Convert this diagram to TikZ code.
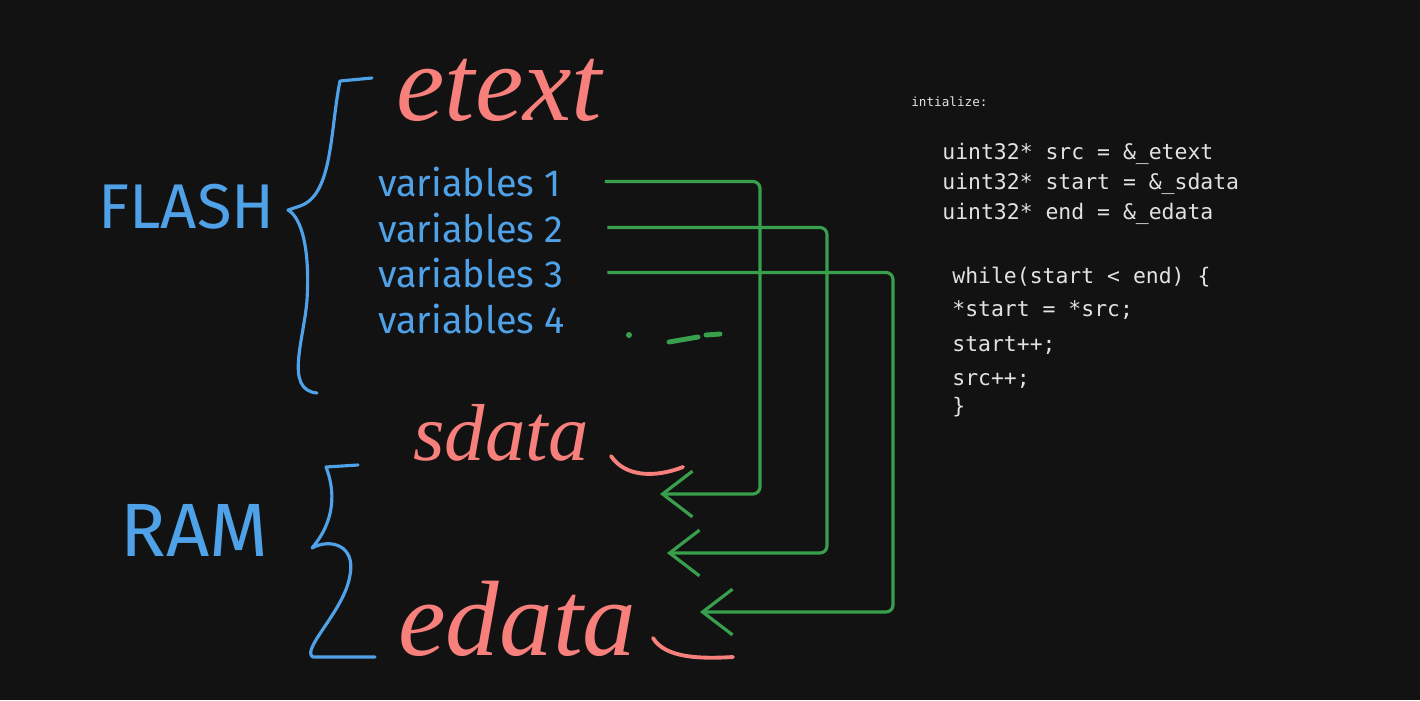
\documentclass[tikz,border=0pt]{standalone}
\usepackage{fontspec}
\setmainfont{Fira Sans}
\newfontfamily\codefont{DejaVu Sans Mono}
\newfontfamily\handfont{Liberation Serif}
\usetikzlibrary{arrows.meta, positioning}
\definecolor{bgdark}{RGB}{18,18,18}
\definecolor{memblue}{RGB}{80,162,232}
\definecolor{symred}{RGB}{248,128,124}
\definecolor{copygreen}{RGB}{56,160,76}
\definecolor{codewhite}{RGB}{226,226,226}
\tikzstyle{region}=[text=memblue, anchor=base west, inner sep=0pt]
\tikzstyle{varlbl}=[text=memblue, font=\fontsize{21.5}{24}\selectfont,
  anchor=base west, inner sep=0pt]
\tikzstyle{symlbl}=[text=symred, anchor=base west, inner sep=0pt]
\tikzstyle{codeln}=[text=codewhite, font=\codefont\fontsize{12.2}{14}\selectfont,
  anchor=base west, inner sep=0pt]
\tikzstyle{brace}=[draw=memblue, line width=1.8pt, line cap=round, line join=round]
\tikzstyle{redstroke}=[draw=symred, line width=2.2pt, line cap=round]
\tikzstyle{garr}=[-{Straight Barb[length=17pt, width=26pt]}, draw=copygreen,
  line width=1.8pt, rounded corners=4pt, shorten <=0.88cm]

\begin{document}
\begin{tikzpicture}[x=0.02cm, y=-0.02cm]
    \fill[bgdark] (0,0) rectangle (1420,700);
    \useasboundingbox (0,0) rectangle (1420,700);
    % memory regions
    \node[region, font=\fontsize{36}{40}\selectfont] (flash) at (98,228) {FLASH};
    \node[region, font=\fontsize{43}{46}\selectfont] (ram) at (120,556) {RAM};
    \draw[brace] (372,78) -- (340,81) .. controls (330,130) and (333,195) .. (300,206)
      -- (288,210) .. controls (302,218) and (310,250) .. (307,300)
      .. controls (304,340) and (284,390) .. (317,393);
    \draw[brace] (358,465) -- (326,467) .. controls (335,490) and (336,520) .. (312,548)
      .. controls (330,538) and (356,545) .. (350,575)
      .. controls (345,610) and (300,650) .. (313,657) -- (375,657);
    % linker symbols
    \node[symlbl, font=\handfont\itshape\fontsize{62}{66}\selectfont] (etext) at (396,120) {etext};
    \node[symlbl, font=\handfont\itshape\fontsize{46}{50}\selectfont] (sdata) at (413,460) {sdata};
    \node[symlbl, font=\handfont\itshape\fontsize{61}{64}\selectfont] (edata) at (398,655) {edata};
    \draw[redstroke] (611,456) .. controls (625,477) and (655,478) .. (683,467);
    \draw[redstroke] (653,638) .. controls (665,658) and (700,659) .. (733,657);
    % variables in flash
    \node[varlbl] (v1) at (378,196) {variables 1};
    \node[varlbl] (v2) at (378,242) {variables 2};
    \node[varlbl] (v3) at (378,287) {variables 3};
    \node[varlbl] (v4) at (378,333) {variables 4};
    \fill[copygreen] (629,335) circle (3);
    \draw[copygreen, line width=2.8pt, line cap=round] (669,342) -- (698,337);
    \draw[copygreen, line width=2.8pt, line cap=round] (706,335) -- (720,334);
    % copy arrows
    \coordinate (b1) at (760,494);
    \coordinate (t1) at (660,494);
    \coordinate (b2) at (827,553);
    \coordinate (t2) at (667,553);
    \coordinate (b3) at (893,612);
    \coordinate (t3) at (700,612);
    \draw[garr] (v1.east) -| (b1) -- (t1);
    \draw[garr] (v2.east) -| (b2) -- (t2);
    \draw[garr] (v3.east) -| (b3) -- (t3);
    % startup code
    \node[codeln, font=\codefont\fontsize{7.2}{9}\selectfont] (init) at (911,106) {intialize:};
    \node[codeln] (c1) at (942,159) {uint32* src = \&\_etext};
    \node[codeln] (c2) at (942,189) {uint32* start = \&\_sdata};
    \node[codeln] (c3) at (942,219) {uint32* end = \&\_edata};
    \node[codeln] (w1) at (952,283) {while(start < end) \{};
    \node[codeln] (w2) at (952,316) {*start = *src;};
    \node[codeln] (w3) at (952,351) {start++;};
    \node[codeln] (w4) at (952,385) {src++;};
    \node[codeln] (w5) at (952,413) {\}};
  \end{tikzpicture}
\end{document}
